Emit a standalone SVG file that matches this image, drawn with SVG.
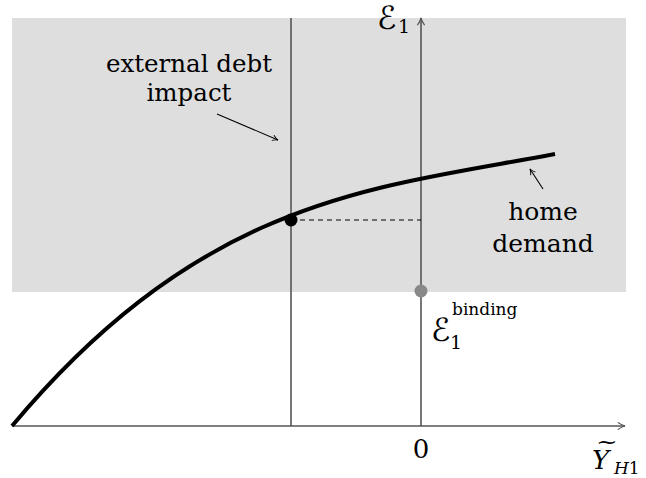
<svg xmlns="http://www.w3.org/2000/svg" width="646" height="478" viewBox="0 0 646 478">
<style>
.axis{stroke:#555;stroke-width:1.6;fill:none}
.ptr{stroke:#000;stroke-width:1.1;fill:none}
.lbl{font-family:"DejaVu Serif","Liberation Serif",serif;fill:#000}
.math{font-family:"DejaVu Serif","Liberation Serif",serif;fill:#000}
.scr{font-family:"DejaVu Sans","DejaVu Serif",serif;fill:#000}
</style>
<defs>
<marker id="ah" viewBox="0 0 10 10" refX="9" refY="5" markerWidth="7" markerHeight="7" markerUnits="userSpaceOnUse" orient="auto">
<path d="M1,1 Q5,4 9,5 Q5,6 1,9" fill="none" stroke="#000" stroke-width="1.3"/>
</marker>
<marker id="ahg" viewBox="0 0 10 10" refX="9" refY="5" markerWidth="9" markerHeight="9" markerUnits="userSpaceOnUse" orient="auto">
<path d="M1,1 Q5,4 9,5 Q5,6 1,9" fill="none" stroke="#555" stroke-width="1.3"/>
</marker>
</defs>
<rect id="region" x="12" y="18" width="614" height="274" fill="#dedede"/>
<g id="connectors">
<line class="axis" x1="12" y1="426" x2="625" y2="426" marker-end="url(#ahg)"/>
<line class="axis" x1="421" y1="426" x2="421" y2="18" marker-end="url(#ahg)"/>
<line class="axis" x1="291" y1="18" x2="291" y2="426"/>
<line x1="291" y1="220" x2="421" y2="220" stroke="#000" stroke-width="1.1" stroke-dasharray="5,4"/>
<line class="ptr" x1="217" y1="114" x2="278" y2="140" marker-end="url(#ah)"/>
<line class="ptr" x1="543" y1="189" x2="530" y2="169" marker-end="url(#ah)"/>
</g>
<g id="curve">
<path d="M12,426 C205,196 375,188 555,154" fill="none" stroke="#000" stroke-width="4"/>
</g>
<g id="point-eq"><circle cx="291" cy="220" r="6.5" fill="#000"/></g>
<g id="point-binding"><circle cx="421" cy="291" r="6.5" fill="#888"/></g>
<g id="label-external">
<text class="lbl" font-size="24.5" text-anchor="middle" x="189" y="72">external debt</text>
<text class="lbl" font-size="24.5" text-anchor="middle" x="189" y="101">impact</text>
</g>
<g id="label-home">
<text class="lbl" font-size="25" text-anchor="middle" x="543" y="220">home</text>
<text class="lbl" font-size="25" text-anchor="middle" x="543" y="252">demand</text>
</g>
<g id="label-E1">
<text class="scr" font-size="32" x="377" y="29">ℰ</text>
<text class="math" font-size="19" x="398" y="33">1</text>
</g>
<g id="label-Ebinding">
<text class="scr" font-size="32" x="431" y="341">ℰ</text>
<text class="math" font-size="19" x="450" y="349">1</text>
<text class="math" font-size="17" x="452" y="315">binding</text>
</g>
<g id="label-zero">
<text class="math" font-size="26" text-anchor="middle" x="421" y="458">0</text>
</g>
<g id="label-Y">
<text class="math" font-size="26" font-style="italic" x="592" y="469">Y</text>
<text class="math" font-size="20" text-anchor="middle" transform="translate(607,449) scale(1.3,1)" x="0" y="0">~</text>
<text class="math" font-size="17" font-style="italic" x="614" y="474">H<tspan font-style="normal">1</tspan></text>
</g>
</svg>
